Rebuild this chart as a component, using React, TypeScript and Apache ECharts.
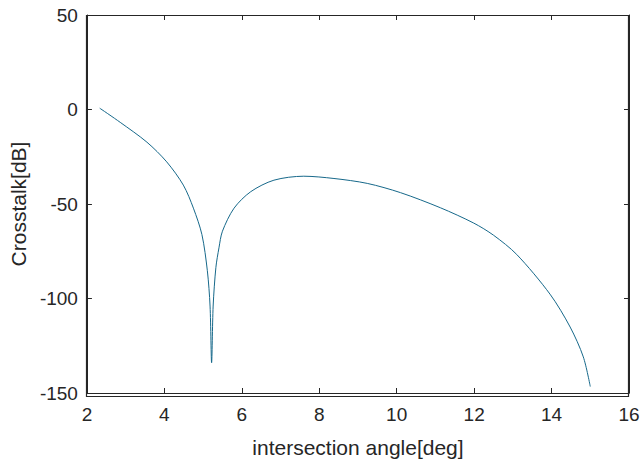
import React, { useEffect, useRef } from "react";
import * as echarts from "echarts";

// Crosstalk versus intersection angle, sampled along the curve
const angleDeg: number[] = [
  2.33, 2.86, 3.55, 4.06, 4.49, 4.75, 4.97, 5.11, 5.18, 5.22, 5.26, 5.33,
  5.41, 5.5, 5.8, 6.23, 6.83, 7.6, 8.38, 9.24, 10.1, 11.13, 11.99, 12.5,
  13.1, 13.96, 14.48, 14.82, 15.0,
];
const crosstalkDb: number[] = [
  0.7, -6.8, -17.3, -27.7, -40.0, -52.2, -66.2, -85.3, -104.0, -134.0,
  -104.0, -83.7, -73.2, -64.4, -52.2, -43.5, -37.4, -35.3, -36.5, -39.1,
  -44.0, -52.0, -60.1, -66.5, -76.7, -97.7, -115.1, -130.9, -146.6,
];

const xTicks = { min: 2, max: 16, interval: 2 };
const yTicks = { min: -150, max: 50, interval: 50 };

const FONT = "'Liberation Sans', Arial, Helvetica, sans-serif";
const INK = "#262626";

// plot box inside the 643×463 canvas
const W = 643;
const H = 463;
const BOX = { left: 86, right: 14, top: 15, bottom: 67 };

export default function App() {
  const ref = useRef<HTMLDivElement | null>(null);

  useEffect(() => {
    if (!ref.current) return;
    const chart = echarts.init(ref.current, undefined, { renderer: "svg" });

    const axisBase = {
      axisLine: { show: true, onZero: false, lineStyle: { color: INK, width: 1 } },
      axisTick: { show: true, inside: true, length: 5, lineStyle: { color: INK, width: 1 } },
      splitLine: { show: false },
    };

    chart.setOption({
      animation: false,
      backgroundColor: "#ffffff",
      grid: { ...BOX, containLabel: false },
      graphic: [
        {
          // closed frame around the plot area, on half pixels for crisp 1px edges
          type: "rect",
          silent: true,
          z: 100,
          shape: {
            x: BOX.left + 0.5,
            y: BOX.top + 0.5,
            width: W - BOX.left - BOX.right - 1,
            height: H - BOX.top - BOX.bottom,
          },
          style: { fill: "rgba(0,0,0,0)", stroke: INK, lineWidth: 1.2 },
        },
      ],
      xAxis: [
        {
          type: "value",
          position: "bottom",
          ...xTicks,
          ...axisBase,
          name: "intersection angle[deg]",
          nameLocation: "middle",
          nameGap: 44,
          nameTextStyle: { fontFamily: FONT, fontSize: 21, color: INK },
          axisLabel: { fontFamily: FONT, fontSize: 19, color: INK, margin: 12 },
        },
        {
          type: "value",
          position: "top",
          ...xTicks,
          ...axisBase,
          axisLabel: { show: false },
        },
      ],
      yAxis: [
        {
          type: "value",
          position: "left",
          ...yTicks,
          ...axisBase,
          name: "Crosstalk[dB]",
          nameLocation: "middle",
          nameGap: 54,
          nameTextStyle: { fontFamily: FONT, fontSize: 21, color: INK },
          axisLabel: { fontFamily: FONT, fontSize: 19, color: INK, margin: 9 },
        },
        {
          type: "value",
          position: "right",
          ...yTicks,
          ...axisBase,
          axisLabel: { show: false },
        },
      ],
      series: [
        {
          type: "line",
          data: angleDeg.map((a, i) => [a, crosstalkDb[i]]),
          showSymbol: false,
          smooth: 0.3,
          lineStyle: { color: "#16688a", width: 1 },
          xAxisIndex: 0,
          yAxisIndex: 0,
        },
      ],
    });

    return () => chart.dispose();
  }, []);

  return (
    <div
      ref={ref}
      style={{ position: "fixed", left: 0, top: 0, width: W, height: H, background: "#fff" }}
    />
  );
}
